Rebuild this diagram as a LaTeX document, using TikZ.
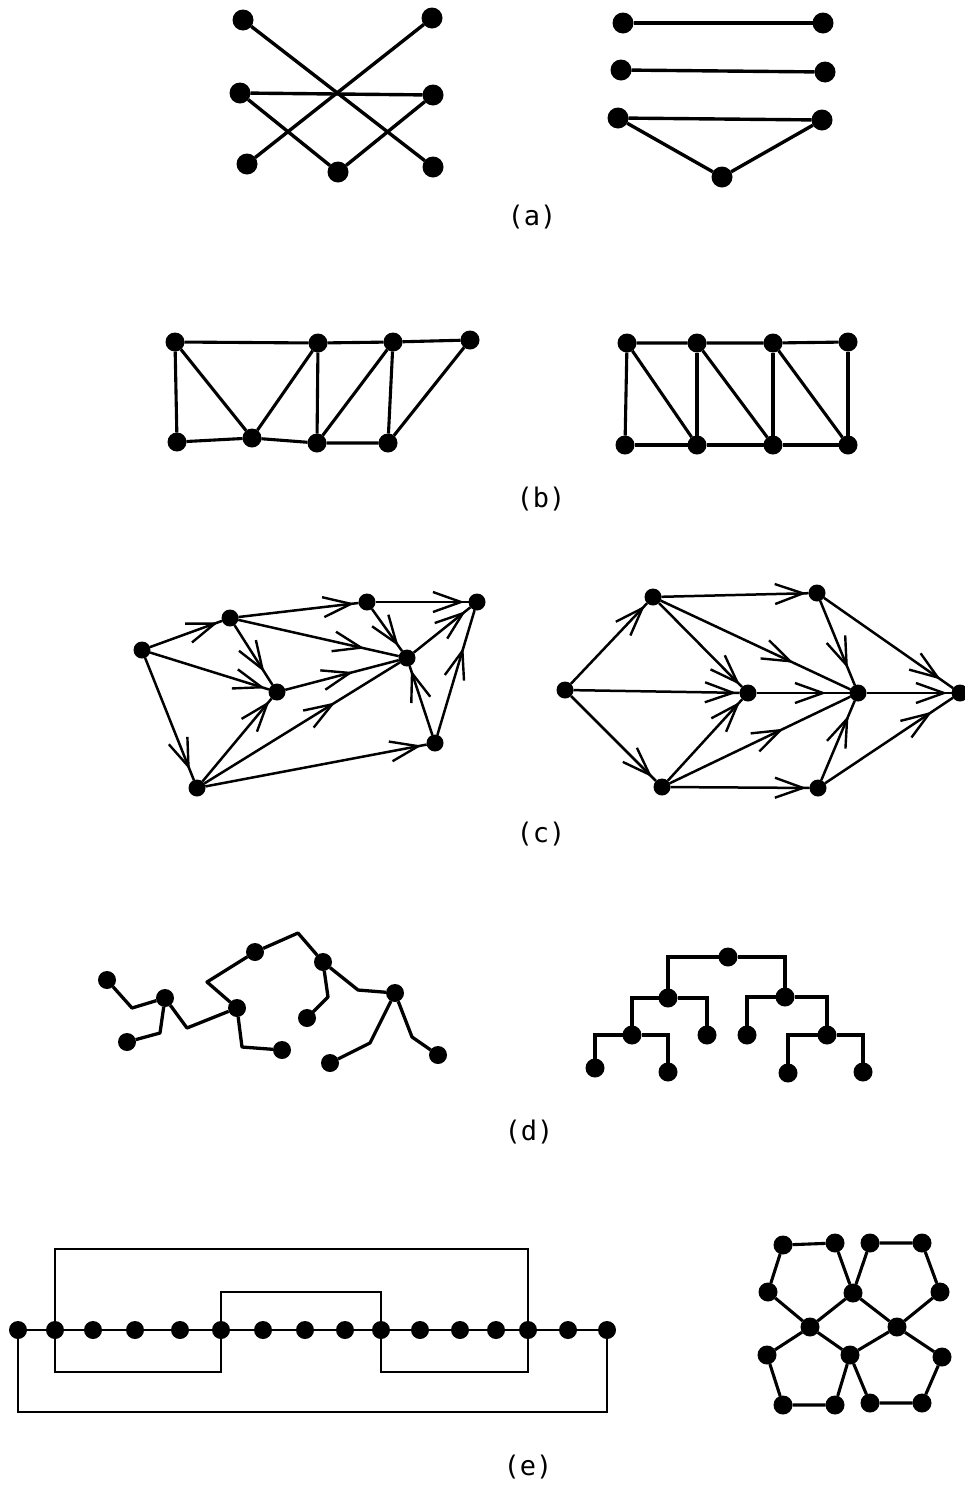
\documentclass[tikz,border=0pt]{standalone}
\usepackage{fontspec}
\newfontfamily\lblfont{DejaVu Sans Mono}
\usetikzlibrary{arrows.meta,decorations.markings}
\tikzset{
  vtx/.style={circle,fill=black,inner sep=0pt,outer sep=0pt,minimum size=#1},
  vtx/.default=15pt,
  edgeA/.style={line width=3.4pt},
  edgeB/.style={line width=3.1pt},
  edgeC/.style={line width=2.5pt},
  edgeD/.style={line width=3.3pt},
  edgeE/.style={line width=2.6pt},
  edgeF/.style={line width=3.1pt},
  arr/.style={postaction={decorate},decoration={markings,
     mark=at position #1 with {\arrow{Straight Barb[length=28pt,width=20pt,line width=2.4pt]}}}},
  lbl/.style={font=\lblfont\fontsize{27}{30}\selectfont}
}
\begin{document}
\begin{tikzpicture}[x=1pt,y=-1pt]
\useasboundingbox (0,0) rectangle (965,1489);
\fill[white] (0,0) rectangle (965,1489);

% ---------------- (a) left
\foreach \n/\x/\y in {aTL/243/20, aTR/432/18, aML/240/93, aMR/433/95, aBL/247/164, aBM/338/172, aBR/433/167}
  \node[vtx=21pt] (\n) at (\x,\y) {};
\draw[edgeA] (aTL) -- (aBR);
\draw[edgeA] (aTR) -- (aBL);
\draw[edgeA] (aML) -- (aMR);
\draw[edgeA] (aML) -- (aBM) -- (aMR);
% (a) right
\foreach \n/\x/\y in {ar1/623/23, ar2/823/23, ar3/621/70, ar4/825/72, ar5/618/118, ar6/822/120, ar7/722/177}
  \node[vtx=21pt] (\n) at (\x,\y) {};
\draw[edgeA] (ar1) -- (ar2);
\draw[edgeA] (ar3) -- (ar4);
\draw[edgeA] (ar5) -- (ar6);
\draw[edgeA] (ar5) -- (ar7) -- (ar6);
\node[lbl] (la) at (532,217) {(a)};

% ---------------- (b) left
\foreach \n/\x/\y in {bT1/175/342, bT2/318/343, bT3/393/342, bT4/470/340, bB1/177/442, bB2/252/438, bB3/317/443, bB4/388/443}
  \node[vtx=19pt] (\n) at (\x,\y) {};
\draw[edgeB] (bT1) -- (bT2) -- (bT3) -- (bT4);
\draw[edgeB] (bB1) -- (bB2) -- (bB3) -- (bB4);
\draw[edgeB] (bT1) -- (bB1);
\draw[edgeB] (bT2) -- (bB3);
\draw[edgeB] (bT3) -- (bB4);
\draw[edgeB] (bT1) -- (bB2) -- (bT2);
\draw[edgeB] (bB3) -- (bT3);
\draw[edgeB] (bB4) -- (bT4);
% (b) right
\foreach \n/\x/\y in {cT1/627/343, cT2/697/343, cT3/773/343, cT4/848/342, cB1/625/445, cB2/697/445, cB3/773/445, cB4/848/445}
  \node[vtx=19pt] (\n) at (\x,\y) {};
\draw[edgeB] (cT1) -- (cT2) -- (cT3) -- (cT4);
\draw[edgeB] (cB1) -- (cB2) -- (cB3) -- (cB4);
\draw[edgeB] (cT1) -- (cB1);
\draw[edgeB] (cT2) -- (cB2);
\draw[edgeB] (cT3) -- (cB3);
\draw[edgeB] (cT4) -- (cB4);
\draw[edgeB] (cT1) -- (cB2);
\draw[edgeB] (cT2) -- (cB3);
\draw[edgeB] (cT3) -- (cB4);
\node[lbl] (lb) at (541,499) {(b)};

% ---------------- (c) left
\foreach \n/\x/\y in {dA/142/650, dB/230/618, dC/367/602, dD/477/602, dE/277/692, dF/407/658, dG/435/743, dH/197/788}
  \node[vtx=17pt] (\n) at (\x,\y) {};
\draw[edgeC,arr=-4pt] (dA) -- (dB);
\draw[edgeC,arr=-4pt] (dA) -- (dE);
\draw[edgeC,arr=-11pt] (dA) -- (dH);
\draw[edgeC,arr=-15pt] (dB) -- (dE);
\draw[edgeC,arr=-4pt] (dB) -- (dC);
\draw[edgeC,arr=-35pt] (dB) -- (dF);
\draw[edgeC,arr=-6pt] (dC) -- (dF);
\draw[edgeC,arr=-4pt] (dC) -- (dD);
\draw[edgeC,arr=-6pt] (dF) -- (dD);
\draw[edgeC,arr=0.6] (dE) -- (dF);
\draw[edgeC,arr=-3pt] (dH) -- (dE);
\draw[edgeC,arr=0.67] (dH) -- (dF);
\draw[edgeC,arr=-5pt] (dH) -- (dG);
\draw[edgeC,arr=-4pt] (dG) -- (dF);
\draw[edgeC,arr=0.7] (dG) -- (dD);
% (c) right
\foreach \n/\x/\y in {eS/565/690, eP/653/597, eQ/817/593, eM/748/693, eN/858/693, eT/960/693, eL/662/787, eR/818/788}
  \node[vtx=17pt] (\n) at (\x,\y) {};
\draw[edgeC,arr=-3pt] (eS) -- (eP);
\draw[edgeC,arr=-3pt] (eS) -- (eM);
\draw[edgeC,arr=-5pt] (eS) -- (eL);
\draw[edgeC,arr=-2pt] (eP) -- (eQ);
\draw[edgeC,arr=-3pt] (eP) -- (eM);
\draw[edgeC,arr=0.7] (eP) -- (eN);
\draw[edgeC,arr=-18pt] (eQ) -- (eN);
\draw[edgeC,arr=-15pt] (eQ) -- (eT);
\draw[edgeC,arr=-23pt] (eM) -- (eN);
\draw[edgeC,arr=-4pt] (eN) -- (eT);
\draw[edgeC,arr=-3pt] (eL) -- (eM);
\draw[edgeC,arr=0.63] (eL) -- (eN);
\draw[edgeC,arr=-3pt] (eL) -- (eR);
\draw[edgeC,arr=-16pt] (eR) -- (eN);
\draw[edgeC,arr=-25pt] (eR) -- (eT);
\node[lbl] (lc) at (541,834) {(c)};

% ---------------- (d) left
\foreach \n/\x/\y in {f1/107/980, f2/165/998, f3/127/1042, f4/237/1008, f5/255/952, f6/282/1050, f7/323/962, f8/307/1018, f9/395/993, f10/330/1063, f11/438/1055}
  \node[vtx=18pt] (\n) at (\x,\y) {};
\draw[edgeD,line join=round] (f1) -- (132,1008) -- (f2);
\draw[edgeD,line join=round] (f2) -- (160,1033) -- (f3);
\draw[edgeD,line join=round] (f2) -- (187,1028) -- (f4);
\draw[edgeD,line join=round] (f4) -- (207,982) -- (f5);
\draw[edgeD,line join=round] (f4) -- (242,1047) -- (f6);
\draw[edgeD,line join=round] (f5) -- (298,933) -- (f7);
\draw[edgeD,line join=round] (f7) -- (328,997) -- (f8);
\draw[edgeD,line join=round] (f7) -- (358,990) -- (f9);
\draw[edgeD,line join=round] (f9) -- (370,1043) -- (f10);
\draw[edgeD,line join=round] (f9) -- (412,1037) -- (f11);
% (d) right
\foreach \n/\x/\y in {gR/728/957, gL1/668/998, gR1/785/997, gLL/632/1035, gLR/707/1035, gRL/747/1035, gRR/827/1035, gLLL/595/1068, gLLR/668/1072, gRRL/788/1073, gRRR/863/1072}
  \node[vtx=19pt] (\n) at (\x,\y) {};
\draw[edgeD] (gR) -| (gL1);
\draw[edgeD] (gR) -| (gR1);
\draw[edgeD] (gL1) -| (gLL);
\draw[edgeD] (gL1) -| (gLR);
\draw[edgeD] (gR1) -| (gRL);
\draw[edgeD] (gR1) -| (gRR);
\draw[edgeD] (gLL) -| (gLLL);
\draw[edgeD] (gLL) -| (gLLR);
\draw[edgeD] (gRR) -| (gRRL);
\draw[edgeD] (gRR) -| (gRRR);
\node[lbl] (ld) at (529,1132) {(d)};

% ---------------- (e) left
\foreach \n/\x in {1/18, 2/55, 3/93, 4/135, 5/180, 6/221, 7/263, 8/305, 9/345, 10/381, 11/420, 12/460, 13/496, 14/528, 15/568, 16/607}
  \node[vtx=18pt] (h\n) at (\x,1330) {};
\draw[edgeE] (h1) -- (h16);
\draw[edgeE] (h2) -- (h2 |- 0,1249) -| (h14);
\draw[edgeE] (h6) -- (h6 |- 0,1292) -| (h10);
\draw[edgeE] (h2) -- (h2 |- 0,1372) -| (h6);
\draw[edgeE] (h10) -- (h10 |- 0,1372) -| (h14);
\draw[edgeE] (h1) -- (h1 |- 0,1412) -| (h16);
% (e) right
\foreach \n/\x/\y in {p1/783/1245, p2/835/1243, p3/870/1243, p4/922/1243, p5/768/1292, p6/853/1293, p7/940/1292, p8/810/1327, p9/897/1327, p10/767/1355, p11/850/1355, p12/942/1357, p13/783/1405, p14/835/1405, p15/870/1403, p16/922/1403}
  \node[vtx=19pt] (\n) at (\x,\y) {};
\draw[edgeF] (p1) -- (p2) -- (p6) -- (p8) -- (p5) -- (p1);
\draw[edgeF] (p3) -- (p4) -- (p7) -- (p9) -- (p6) -- (p3);
\draw[edgeF] (p8) -- (p11) -- (p14) -- (p13) -- (p10) -- (p8);
\draw[edgeF] (p9) -- (p12) -- (p16) -- (p15) -- (p11) -- (p9);
\node[lbl] (le) at (528,1467) {(e)};
\end{tikzpicture}
\end{document}
